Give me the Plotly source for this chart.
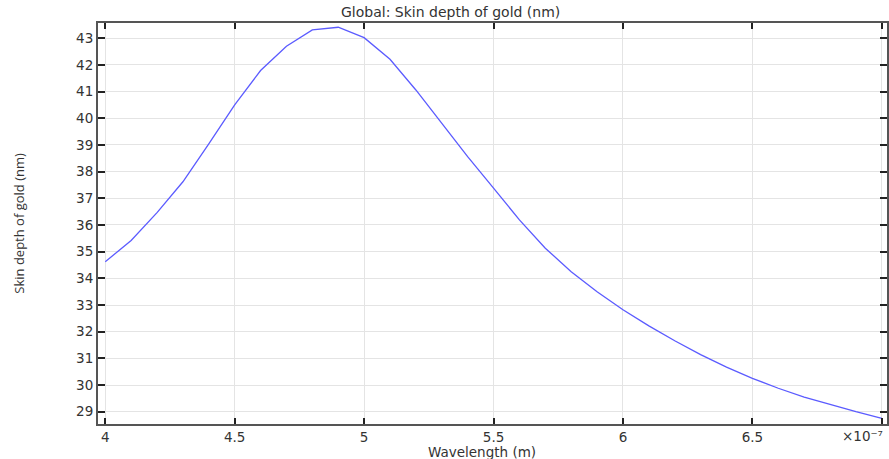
import plotly.graph_objects as go

wavelength = [4.0, 4.1, 4.2, 4.3, 4.4, 4.5, 4.6, 4.7, 4.8, 4.9, 5.0,
              5.1, 5.2, 5.3, 5.4, 5.5, 5.6, 5.7, 5.8, 5.9, 6.0,
              6.1, 6.2, 6.3, 6.4, 6.5, 6.6, 6.7, 6.8, 6.9, 7.0]
skin_depth = [34.62, 35.42, 36.46, 37.62, 39.04, 40.50, 41.79, 42.70, 43.31, 43.41, 43.02,
              42.21, 41.06, 39.81, 38.56, 37.38, 36.19, 35.13, 34.25, 33.50, 32.82,
              32.22, 31.66, 31.14, 30.67, 30.25, 29.88, 29.55, 29.27, 29.00, 28.75]

x_tickvals = [4, 4.5, 5, 5.5, 6, 6.5, 7]
x_ticktext = ["4", "4.5", "5", "5.5", "6", "6.5", ""]
x_multiplier = "×10⁻⁷"
y_tickvals = list(range(29, 44))

title_text = "Global: Skin depth of gold (nm)"
x_title = "Wavelength (m)"
y_title = "Skin depth of gold (nm)"

W, H = 889, 459
L, T, B, R = 98, 23, 35, 0
PW = W - L - R

fig = go.Figure()
fig.add_trace(go.Scatter(x=wavelength, y=skin_depth, mode="lines",
                         line=dict(color="#5b5bff", width=1.3), showlegend=False))

tick_font = dict(family="DejaVu Sans", size=13.5, color="#333333")
axis_common = dict(showline=True, linecolor="#555555", linewidth=2, mirror="ticks",
                   ticks="inside", tickcolor="#222222", tickwidth=1.5,
                   showgrid=True, gridcolor="#e4e4e4", gridwidth=1, zeroline=False,
                   tickfont=tick_font)

fig.update_layout(
    width=W, height=H,
    margin=dict(l=L, r=R, t=T, b=B),
    paper_bgcolor="white", plot_bgcolor="white",
    xaxis=dict(range=[3.972, 7.02], tickvals=x_tickvals, ticktext=x_ticktext,
               ticklen=6, **axis_common),
    yaxis=dict(range=[28.54, 43.57], tickvals=y_tickvals, ticklen=7, **axis_common),
    annotations=[
        dict(text=title_text, xref="paper", yref="paper", x=(451 - L) / PW, y=1.0,
             yshift=1, xanchor="center", yanchor="bottom", showarrow=False,
             font=dict(family="DejaVu Sans", size=14, color="#333333")),
        dict(text=x_title, xref="paper", yref="paper", x=(483 - L) / PW, y=0,
             yshift=-28, xanchor="center", yanchor="middle", showarrow=False,
             font=dict(family="DejaVu Sans", size=13.5, color="#333333")),
        dict(text=x_multiplier, xref="paper", yref="paper", x=(842 - L) / PW, y=0,
             yshift=-12, xanchor="left", yanchor="middle", showarrow=False,
             font=tick_font),
        dict(text=y_title, xref="paper", yref="paper", x=(18 - L) / PW, y=0.5,
             xanchor="center", yanchor="middle", textangle=-90, showarrow=False,
             font=dict(family="Open Sans", size=13, color="#333333")),
    ],
)

fig.write_html("out.html")
